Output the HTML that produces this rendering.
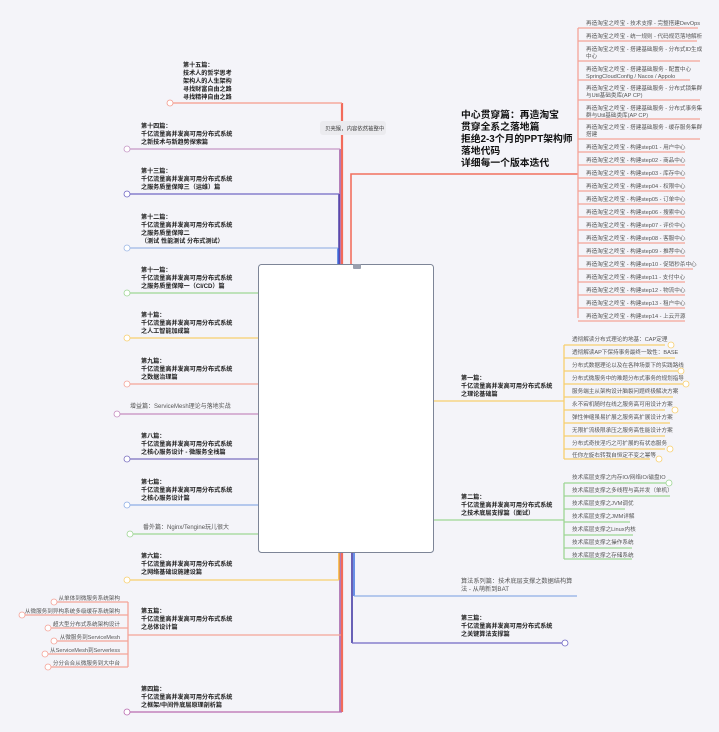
<!DOCTYPE html>
<html><head><meta charset="utf-8"><style>
html,body{margin:0;padding:0;background:#f4f4f9;width:719px;height:732px;overflow:hidden}
svg{position:absolute;left:0;top:0}
text{font-family:"Liberation Sans","Noto Sans CJK SC",sans-serif}
.b{font-size:6.1px;font-weight:bold;fill:#222}
.s{font-size:5.6px;fill:#555}
.c{font-size:9.8px;font-weight:bold;fill:#111}
</style></head><body>
<svg width="719" height="732" viewBox="0 0 719 732">
<g fill="none" stroke-width="1.3">
<line x1="342" y1="103" x2="342" y2="712" stroke="#f26b5b" stroke-width="2.2"/>
<line x1="340" y1="149" x2="340" y2="712" stroke="#a05aa6" stroke-width="1.5"/>
<line x1="339" y1="194" x2="339" y2="264" stroke="#4a3ea8" stroke-width="1.5"/>
<line x1="338" y1="248" x2="338" y2="264" stroke="#3c6ee0" stroke-width="1.5"/>
<line x1="339" y1="552" x2="339" y2="580" stroke="#f8b030" stroke-width="1.5"/>
<path d="M170 103H342" stroke="#f59a8c"/>
<path d="M127 149H340" stroke="#c597c6"/>
<path d="M127 194H339" stroke="#7067c4"/>
<path d="M127 248H338" stroke="#9db8e6"/>
<path d="M127 293H260" stroke="#9ed694"/>
<path d="M127 338H260" stroke="#f8cf6e"/>
<path d="M127 384H260" stroke="#f4a398"/>
<path d="M117 414H260" stroke="#c58cc0"/>
<path d="M127 459H260" stroke="#7a6fc0"/>
<path d="M127 505H260" stroke="#8eaee6"/>
<path d="M130 534H260" stroke="#9ed694"/>
<path d="M127 580H339" stroke="#f8cf6e"/>
<path d="M128 635H341" stroke="#f4a398"/>
<path d="M127 712H342" stroke="#b96bb0"/>
<g stroke="#f4a398">
<path d="M128 602V667"/>
<path d="M54 602H128M22 615H128M48 628H128M54 641H128M45 654H128M48 667H128"/>
</g>
<path d="M351 264V174H578" stroke="#f2705f" stroke-width="1.6"/>
<path d="M578 28V318" stroke="#f4a398"/>
<g stroke="#f4a398">
<path d="M578 28H698M578 41H697M578 61H700M578 80H690M578 100H700M578 119H700M578 139H700"/>
<path d="M578 152H685M578 165H685M578 178H685M578 191H685M578 204H685M578 217H685M578 230H685M578 243H685M578 256H685M578 269H693M578 282H685M578 295H685M578 308H685M578 321H685"/>
</g>
<line x1="352" y1="552" x2="352" y2="643" stroke="#3a2fa0" stroke-width="1.5"/>
<line x1="354" y1="552" x2="354" y2="596" stroke="#3c6ee0" stroke-width="1.5"/>
<path d="M434 401H564" stroke="#f8cf6e"/>
<path d="M564 345V459" stroke="#f8cf6e"/>
<g stroke="#f8cf6e"><path d="M564 345H665M564 358H675M564 371H680M564 384H685M564 397H673M564 410H665M564 423H670M564 436H665M564 449H665M564 459H650"/></g>
<path d="M434 520H564" stroke="#9ed694"/>
<path d="M564 483V559" stroke="#9ed694"/>
<g stroke="#9ed694"><path d="M564 483H670M564 496H670M564 509H625M564 522H630M564 535H633M564 548H632M564 559H632"/></g>
<path d="M354 596H577" stroke="#8eaee6"/>
<path d="M352 643H565" stroke="#7067c4"/>
</g>
<g fill="#fff" stroke-width="0.8">
<circle cx="170" cy="103" r="3" stroke="#f59a8c"/>
<circle cx="127" cy="149" r="3" stroke="#c597c6"/>
<circle cx="127" cy="194" r="3" stroke="#7067c4"/>
<circle cx="127" cy="248" r="3" stroke="#9db8e6"/>
<circle cx="127" cy="293" r="3" stroke="#9ed694"/>
<circle cx="127" cy="338" r="3" stroke="#f8cf6e"/>
<circle cx="127" cy="384" r="3" stroke="#f4a398"/>
<circle cx="117" cy="414" r="3" stroke="#c58cc0"/>
<circle cx="127" cy="459" r="3" stroke="#7a6fc0"/>
<circle cx="127" cy="505" r="3" stroke="#8eaee6"/>
<circle cx="130" cy="534" r="3" stroke="#9ed694"/>
<circle cx="127" cy="580" r="3" stroke="#f8cf6e"/>
<circle cx="127" cy="712" r="3" stroke="#b96bb0"/>
<circle cx="54" cy="602" r="3" stroke="#f4a398"/>
<circle cx="22" cy="615" r="3" stroke="#f4a398"/>
<circle cx="48" cy="628" r="3" stroke="#f4a398"/>
<circle cx="54" cy="641" r="3" stroke="#f4a398"/>
<circle cx="45" cy="654" r="3" stroke="#f4a398"/>
<circle cx="48" cy="667" r="3" stroke="#f4a398"/>
<circle cx="565" cy="643" r="3" stroke="#7067c4"/>
<circle cx="671" cy="345" r="3" stroke="#f8cf6e"/>
<circle cx="681" cy="371" r="3" stroke="#f8cf6e"/>
<circle cx="686" cy="384" r="3" stroke="#f8cf6e"/>
<circle cx="675" cy="410" r="3" stroke="#f8cf6e"/>
<circle cx="670" cy="449" r="3" stroke="#f8cf6e"/>
<circle cx="659" cy="459" r="3" stroke="#f8cf6e"/>
<circle cx="669" cy="483" r="3" stroke="#9ed694"/>
</g>
<rect x="320" y="121" width="66" height="14" rx="3" fill="#ebebef"/>
<text x="325" y="130.5" style="font-size:5.4px;fill:#444">贝壳猴，内容依然被整中</text>
<rect x="258.5" y="264.5" width="175" height="288" rx="3" fill="#fff" stroke="#7d8597" stroke-width="1"/>
<rect x="353" y="264" width="8" height="5" rx="1" fill="#9aa0ae"/>
<text class="b"><tspan x="183" y="67">第十五篇：</tspan><tspan x="183" y="75">技术人的哲学思考</tspan><tspan x="183" y="83">架构人的人生架构</tspan><tspan x="183" y="91">寻找财富自由之路</tspan><tspan x="183" y="99">寻找精神自由之路</tspan></text>
<text class="b"><tspan x="141" y="128">第十四篇：</tspan><tspan x="141" y="136">千亿流量高并发高可用分布式系统</tspan><tspan x="141" y="144">之新技术与新趋势探索篇</tspan></text>
<text class="b"><tspan x="141" y="173">第十三篇：</tspan><tspan x="141" y="181">千亿流量高并发高可用分布式系统</tspan><tspan x="141" y="189">之服务质量保障三（运维）篇</tspan></text>
<text class="b"><tspan x="141" y="219">第十二篇：</tspan><tspan x="141" y="227">千亿流量高并发高可用分布式系统</tspan><tspan x="141" y="235">之服务质量保障二</tspan><tspan x="141" y="243">（测试 性能测试 分布式测试）</tspan></text>
<text class="b"><tspan x="141" y="272">第十一篇：</tspan><tspan x="141" y="280">千亿流量高并发高可用分布式系统</tspan><tspan x="141" y="288">之服务质量保障一（CI/CD）篇</tspan></text>
<text class="b"><tspan x="141" y="317">第十篇：</tspan><tspan x="141" y="325">千亿流量高并发高可用分布式系统</tspan><tspan x="141" y="333">之人工智能加成篇</tspan></text>
<text class="b"><tspan x="141" y="363">第九篇：</tspan><tspan x="141" y="371">千亿流量高并发高可用分布式系统</tspan><tspan x="141" y="379">之数据治理篇</tspan></text>
<text x="130" y="408" class="s" style="font-size:6px">增益篇：ServiceMesh理论与落地实战</text>
<text class="b"><tspan x="141" y="438">第八篇：</tspan><tspan x="141" y="446">千亿流量高并发高可用分布式系统</tspan><tspan x="141" y="454">之核心服务设计 - 微服务全栈篇</tspan></text>
<text class="b"><tspan x="141" y="484">第七篇：</tspan><tspan x="141" y="492">千亿流量高并发高可用分布式系统</tspan><tspan x="141" y="500">之核心服务设计篇</tspan></text>
<text x="143" y="529" class="s" style="font-size:6px">番外篇：Nginx/Tengine玩儿很大</text>
<text class="b"><tspan x="141" y="558">第六篇：</tspan><tspan x="141" y="566">千亿流量高并发高可用分布式系统</tspan><tspan x="141" y="574">之网络基础设施建设篇</tspan></text>
<text class="b"><tspan x="141" y="613">第五篇：</tspan><tspan x="141" y="621">千亿流量高并发高可用分布式系统</tspan><tspan x="141" y="629">之总体设计篇</tspan></text>
<text class="b"><tspan x="141" y="691">第四篇：</tspan><tspan x="141" y="699">千亿流量高并发高可用分布式系统</tspan><tspan x="141" y="707">之框架/中间件底层原理剖析篇</tspan></text>
<g class="s" text-anchor="end">
<text x="120" y="600" class="s">从单体到微服务系统架构</text>
<text x="120" y="613" class="s">从微服务到异构系统多级缓存系统架构</text>
<text x="120" y="626" class="s">超大型分布式系统架构设计</text>
<text x="120" y="639" class="s">从微服务到ServiceMesh</text>
<text x="120" y="652" class="s">从ServiceMesh到Serverless</text>
<text x="120" y="665" class="s">分分合合从微服务到大中台</text>
</g>
<text class="c"><tspan x="461" y="118">中心贯穿篇：再造淘宝</tspan><tspan x="461" y="130">贯穿全系之落地篇</tspan><tspan x="461" y="142">拒绝2-3个月的PPT架构师</tspan><tspan x="461" y="154">落地代码</tspan><tspan x="461" y="166">详细每一个版本迭代</tspan></text>
<g>
<text class="s" x="586" y="25">再造淘宝之咚宝 - 技术支撑 - 完整搭建DevOps</text>
<text class="s" x="586" y="38">再造淘宝之咚宝 - 统一规则 - 代码规范落地解析</text>
<text class="s"><tspan x="586" y="51">再造淘宝之咚宝 - 搭建基础服务 - 分布式ID生成</tspan><tspan x="586" y="58">中心</tspan></text>
<text class="s"><tspan x="586" y="71">再造淘宝之咚宝 - 搭建基础服务 - 配置中心</tspan><tspan x="586" y="78">SpringCloudConfig / Nacos / Appolo</tspan></text>
<text class="s"><tspan x="586" y="90">再造淘宝之咚宝 - 搭建基础服务 - 分布式锁集群</tspan><tspan x="586" y="97">与Util基础类库(AP CP)</tspan></text>
<text class="s"><tspan x="586" y="110">再造淘宝之咚宝 - 搭建基础服务 - 分布式事务集</tspan><tspan x="586" y="117">群与Util基础类库(AP CP)</tspan></text>
<text class="s"><tspan x="586" y="129">再造淘宝之咚宝 - 搭建基础服务 - 缓存服务集群</tspan><tspan x="586" y="136">搭建</tspan></text>
<text class="s" x="586" y="149">再造淘宝之咚宝 - 构建step01 - 用户中心</text>
<text class="s" x="586" y="162">再造淘宝之咚宝 - 构建step02 - 商品中心</text>
<text class="s" x="586" y="175">再造淘宝之咚宝 - 构建step03 - 库存中心</text>
<text class="s" x="586" y="188">再造淘宝之咚宝 - 构建step04 - 权限中心</text>
<text class="s" x="586" y="201">再造淘宝之咚宝 - 构建step05 - 订单中心</text>
<text class="s" x="586" y="214">再造淘宝之咚宝 - 构建step06 - 搜索中心</text>
<text class="s" x="586" y="227">再造淘宝之咚宝 - 构建step07 - 评价中心</text>
<text class="s" x="586" y="240">再造淘宝之咚宝 - 构建step08 - 客服中心</text>
<text class="s" x="586" y="253">再造淘宝之咚宝 - 构建step09 - 推荐中心</text>
<text class="s" x="586" y="266">再造淘宝之咚宝 - 构建step10 - 促销秒杀中心</text>
<text class="s" x="586" y="279">再造淘宝之咚宝 - 构建step11 - 支付中心</text>
<text class="s" x="586" y="292">再造淘宝之咚宝 - 构建step12 - 物流中心</text>
<text class="s" x="586" y="305">再造淘宝之咚宝 - 构建step13 - 租户中心</text>
<text class="s" x="586" y="318">再造淘宝之咚宝 - 构建step14 - 上云开源</text>
</g>
<text class="b"><tspan x="461" y="380">第一篇：</tspan><tspan x="461" y="388">千亿流量高并发高可用分布式系统</tspan><tspan x="461" y="396">之理论基础篇</tspan></text>
<g>
<text class="s" x="572" y="341">透彻解读分布式理论的地基：CAP定理</text>
<text class="s" x="572" y="354">透彻解读AP下保持事务最终一致性：BASE</text>
<text class="s" x="572" y="367">分布式数据理论以及在各种场景下的实践路线</text>
<text class="s" x="572" y="380">分布式微服务中的难题分布式事务的规划指导</text>
<text class="s" x="572" y="393">服务端主从架构设计脑裂问题终极解决方案</text>
<text class="s" x="572" y="406">永不宕机随时在线之服务高可用设计方案</text>
<text class="s" x="572" y="419">弹性伸缩虽易扩展之服务高扩展设计方案</text>
<text class="s" x="572" y="432">无限扩流极限承压之服务高性能设计方案</text>
<text class="s" x="572" y="445">分布式奇技淫巧之可扩展的有状态服务</text>
<text class="s" x="572" y="457">任你左旋右转我自恒定不变之幂等</text>
</g>
<text class="b"><tspan x="461" y="499">第二篇：</tspan><tspan x="461" y="507">千亿流量高并发高可用分布式系统</tspan><tspan x="461" y="515">之技术底层支撑篇（面试）</tspan></text>
<g>
<text class="s" x="572" y="479">技术底层支撑之内存IO/网络IO/磁盘IO</text>
<text class="s" x="572" y="492">技术底层支撑之多线程与高并发（单机）</text>
<text class="s" x="572" y="505">技术底层支撑之JVM调优</text>
<text class="s" x="572" y="518">技术底层支撑之JMM详解</text>
<text class="s" x="572" y="531">技术底层支撑之Linux内核</text>
<text class="s" x="572" y="544">技术底层支撑之操作系统</text>
<text class="s" x="572" y="557">技术底层支撑之存储系统</text>
</g>
<text class="s" style="font-size:6.2px"><tspan x="461" y="583">算法系列篇：技术底层支撑之数据结构算</tspan><tspan x="461" y="591">法 - 从萌新到BAT</tspan></text>
<text class="b"><tspan x="461" y="620">第三篇：</tspan><tspan x="461" y="628">千亿流量高并发高可用分布式系统</tspan><tspan x="461" y="636">之关键算法支撑篇</tspan></text>
</svg>
</body></html>
